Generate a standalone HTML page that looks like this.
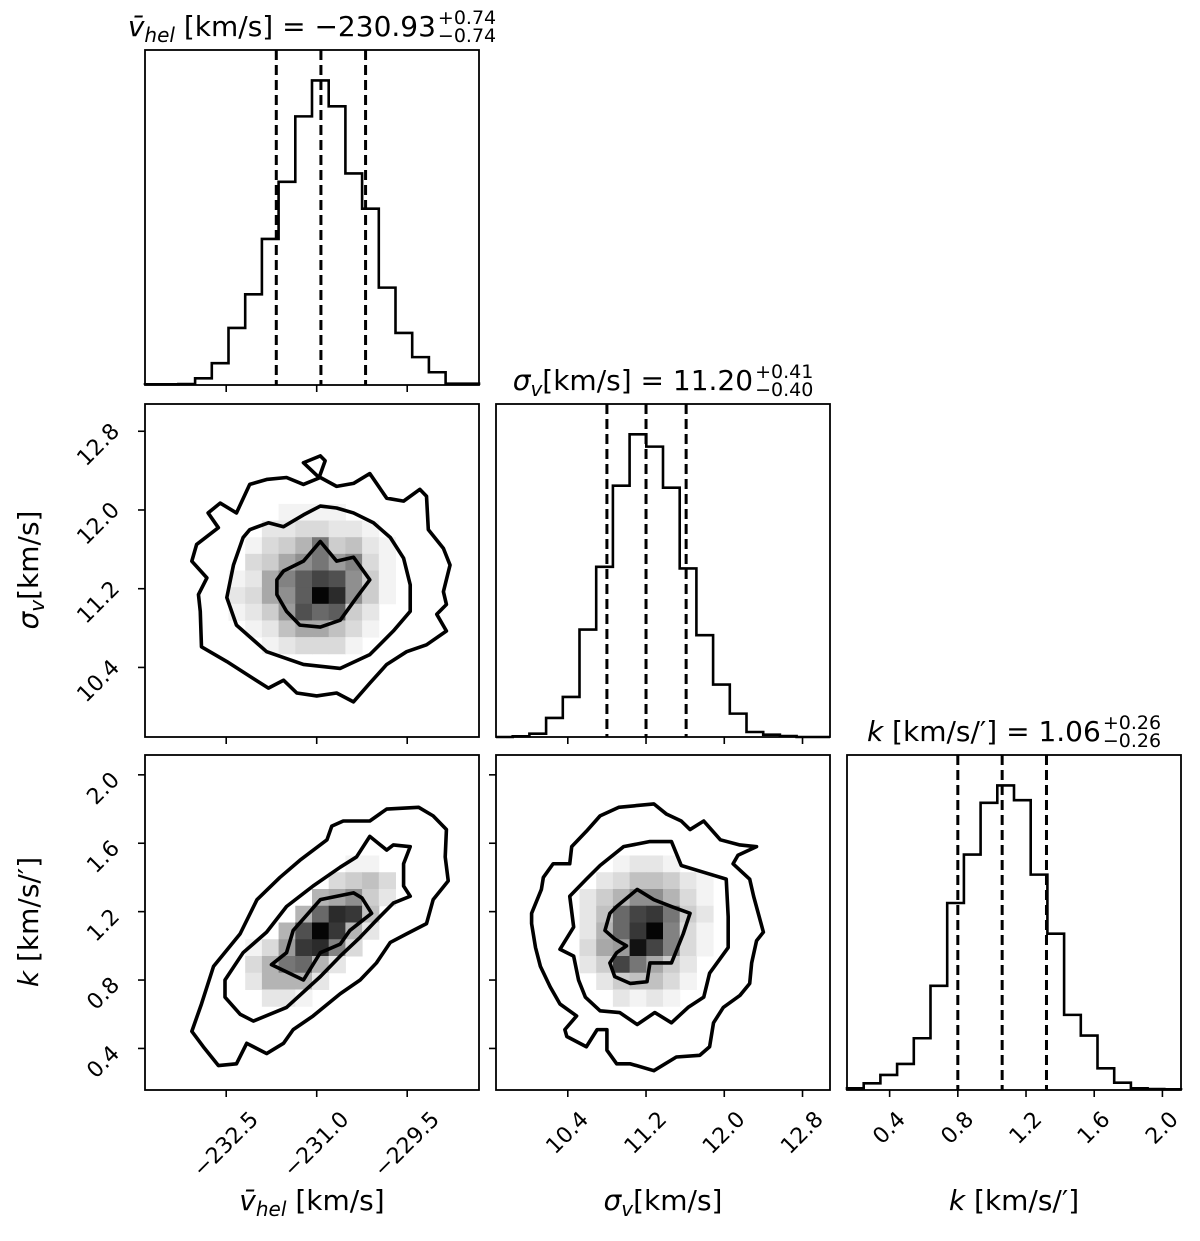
<!DOCTYPE html>
<html><head><meta charset="utf-8"><style>
html,body{margin:0;padding:0;background:#fff;}
svg{display:block;font-family:"DejaVu Sans","Liberation Sans",sans-serif;}
</style></head><body>
<svg id="fig" width="1200" height="1241" viewBox="0 0 1200 1241" xmlns="http://www.w3.org/2000/svg"></svg>
<script>
// ---------- data ----------
const vHistCounts = [2,2,3,20,65,170,270,435,605,800,907,830,630,525,290,155,83,38,4,4];
const sHistCounts = [0,2,10,57,120,322,510,753,907,870,747,505,305,157,70,15,7,3,0,0];
const kHistCounts = [5,20,45,78,155,312,560,705,860,912,868,645,468,225,163,65,22,5,3,2];
const vQuantiles = [-231.67,-230.93,-230.19];
const sQuantiles = [10.80,11.20,11.61];
const kQuantiles = [0.80,1.06,1.32];
const vTicks = [-232.5,-231.0,-229.5];
const vTickLabels = ["\u2212232.5","\u2212231.0","\u2212229.5"];
const sTicks = [10.4,11.2,12.0,12.8];
const sTickLabels = ["10.4","11.2","12.0","12.8"];
const kTicks = [0.4,0.8,1.2,1.6,2.0];
const kTickLabels = ["0.4","0.8","1.2","1.6","2.0"];
const vLim = [-233.846,-228.31];
const sLimX = [9.666,13.081];
const sLimY = [9.693,13.077];
const kLimX = [0.150,2.109];
const kLimY = [0.157,2.116];
const densVS = [
[0,0,0,.05,.05,.05,.05,0,0,0],
[0,0,.1,.1,.15,.15,.1,.1,.05,0],
[0,.05,.15,.2,.3,.55,.2,.25,.1,.05],
[0,.15,.2,.35,.45,.55,.4,.5,.15,.05],
[.05,.1,.35,.5,.65,.75,.7,.45,.2,.05],
[.1,.15,.35,.45,.65,1,.85,.45,.2,.05],
[.05,.1,.2,.4,.7,.6,.65,.2,.1,0],
[0,.05,.1,.25,.35,.35,.25,.15,.05,0],
[0,0,.05,.1,.15,.15,.15,.05,0,0]];
const densVK = [
[0,0,0,0,0,0,0,.05,.05,0],
[0,0,0,0,0,0,.15,.2,.25,.15],
[0,0,0,0,0,.3,.35,.45,.2,.1],
[0,0,0,0,.3,.6,.85,.8,.25,0],
[0,0,0,.3,.7,1,.8,.3,.1,0],
[0,.05,.15,.4,.8,.85,.5,.15,0,0],
[0,.15,.3,.55,.6,.3,.1,0,0,0],
[0,.1,.3,.3,.3,.1,0,0,0,0],
[0,0,.1,.1,.05,0,0,0,0,0]];
const densSK = [
[0,0,.05,.1,.1,.05,0,0],
[0,.1,.15,.25,.25,.2,.1,.05],
[.1,.2,.3,.45,.45,.3,.15,.05],
[.1,.25,.6,.75,.8,.55,.2,.1],
[.1,.3,.6,.8,1,.5,.15,.05],
[.15,.35,.4,.95,.75,.5,.15,.05],
[.1,.2,.75,.55,.35,.2,.1,0],
[0,.1,.2,.25,.25,.15,.05,0],
[0,0,.1,.05,.1,.05,0,0]];
const contVS_outer = [[-230.94,12.33],[-230.67,12.24],[-230.39,12.27],[-230.12,12.37],[-229.84,12.12],[-229.56,12.09],[-229.29,12.21],[-229.18,12.14],[-229.15,11.80],[-228.90,11.61],[-228.79,11.44],[-228.90,11.17],[-228.85,11.04],[-229.01,10.94],[-228.85,10.77],[-229.18,10.63],[-229.51,10.56],[-229.84,10.43],[-230.12,10.24],[-230.39,10.05],[-230.67,10.14],[-231.0,10.11],[-231.33,10.14],[-231.55,10.27],[-231.80,10.19],[-232.11,10.31],[-232.49,10.46],[-232.91,10.61],[-232.93,10.97],[-232.96,11.14],[-232.82,11.31],[-233.07,11.48],[-232.99,11.65],[-232.63,11.82],[-232.80,11.97],[-232.60,12.07],[-232.33,11.97],[-232.11,12.26],[-231.83,12.31],[-231.50,12.33],[-231.22,12.26]];
const contVS_loop = [[-231.22,12.48],[-230.94,12.55],[-230.86,12.50],[-230.96,12.33]];
const contVS_mid = [[-232.11,11.80],[-231.80,11.87],[-231.55,11.83],[-231.22,11.95],[-230.94,12.04],[-230.67,12.02],[-230.39,11.97],[-230.06,11.87],[-229.78,11.72],[-229.56,11.51],[-229.45,11.24],[-229.45,10.97],[-229.73,10.77],[-230.12,10.53],[-230.61,10.39],[-231.22,10.43],[-231.83,10.56],[-232.33,10.83],[-232.49,11.11],[-232.38,11.44],[-232.22,11.72]];
const contVS_in = [[-231.66,11.29],[-231.55,11.38],[-231.22,11.48],[-230.94,11.68],[-230.67,11.48],[-230.39,11.52],[-230.12,11.29],[-230.34,11.11],[-230.61,10.88],[-230.94,10.81],[-231.28,10.83],[-231.50,10.97],[-231.66,11.14]];
const contVK_outer = [[-233.07,0.50],[-232.91,0.66],[-232.71,0.88],[-232.27,1.07],[-231.99,1.27],[-231.61,1.40],[-231.28,1.50],[-230.83,1.62],[-230.75,1.70],[-230.56,1.73],[-230.12,1.73],[-229.84,1.80],[-229.31,1.81],[-229.07,1.76],[-228.85,1.68],[-228.87,1.52],[-228.82,1.38],[-229.07,1.27],[-229.18,1.13],[-229.51,1.07],[-229.78,1.02],[-230.01,0.90],[-230.28,0.80],[-230.61,0.72],[-231.06,0.59],[-231.39,0.51],[-231.55,0.43],[-231.83,0.37],[-232.16,0.43],[-232.33,0.31],[-232.63,0.30],[-232.88,0.41]];
const contVK_mid = [[-232.52,0.80],[-232.22,0.96],[-231.83,1.08],[-231.50,1.23],[-231.06,1.35],[-230.61,1.46],[-230.34,1.52],[-230.12,1.64],[-229.84,1.56],[-229.73,1.59],[-229.45,1.58],[-229.56,1.48],[-229.56,1.35],[-229.45,1.29],[-229.73,1.25],[-230.01,1.15],[-230.28,1.05],[-230.61,0.94],[-230.94,0.82],[-231.50,0.64],[-232.05,0.56],[-232.27,0.60],[-232.52,0.70]];
const contVK_in = [[-231.75,0.89],[-231.50,0.96],[-231.39,1.09],[-230.94,1.27],[-230.39,1.31],[-230.25,1.28],[-230.09,1.19],[-230.45,1.09],[-230.61,1.01],[-230.94,0.96],[-231.22,0.80]];
const contSK_outer = [[10.03,1.19],[10.13,1.33],[10.15,1.40],[10.25,1.48],[10.42,1.48],[10.44,1.58],[10.59,1.67],[10.73,1.76],[10.92,1.81],[11.28,1.83],[11.41,1.77],[11.56,1.73],[11.65,1.68],[11.79,1.73],[11.96,1.62],[12.16,1.59],[12.33,1.58],[12.14,1.53],[12.09,1.48],[12.26,1.39],[12.30,1.29],[12.40,1.08],[12.33,1.03],[12.28,0.90],[12.26,0.78],[12.16,0.71],[11.99,0.64],[11.89,0.55],[11.85,0.41],[11.75,0.36],[11.51,0.35],[11.28,0.27],[11.04,0.31],[10.90,0.31],[10.80,0.39],[10.80,0.51],[10.70,0.51],[10.59,0.41],[10.39,0.47],[10.37,0.51],[10.49,0.59],[10.32,0.66],[10.22,0.76],[10.12,0.88],[10.07,0.99],[10.03,1.13]];
const contSK_mid = [[10.42,1.29],[10.59,1.39],[10.73,1.47],[10.97,1.58],[11.24,1.61],[11.46,1.61],[11.56,1.47],[11.79,1.43],[12.02,1.39],[12.04,1.17],[12.04,0.99],[11.85,0.84],[11.79,0.70],[11.63,0.64],[11.46,0.55],[11.29,0.61],[11.11,0.54],[10.93,0.61],[10.73,0.62],[10.58,0.70],[10.51,0.80],[10.46,0.94],[10.32,0.98],[10.46,1.11]];
const contSK_in = [[10.83,1.19],[10.90,1.23],[11.11,1.33],[11.28,1.27],[11.46,1.23],[11.65,1.19],[11.58,1.07],[11.46,0.90],[11.24,0.90],[11.21,0.79],[11.04,0.78],[10.88,0.82],[10.83,0.90],[10.90,0.96],[11.00,1.00],[10.88,1.04],[10.78,1.09]];

// ---------- drawing ----------
const NS = "http://www.w3.org/2000/svg";
const svg = document.getElementById("fig");
function mk(tag, attrs, parent){ const e=document.createElementNS(NS,tag); for(const k in attrs) e.setAttribute(k,attrs[k]); (parent||svg).appendChild(e); return e; }
function scale(d0,d1,p0,p1){ return v => p0 + (v-d0)/(d1-d0)*(p1-p0); }

const cols = [[145,479],[496,830],[847,1181]];
const rows = [[50,385],[404,737],[755,1090]];
const TFS = 22;

function frame(x0,y0,x1,y1,name){
  const r = mk("rect",{x:x0,y:y0,width:x1-x0,height:y1-y0,fill:"none",stroke:"#000","stroke-width":1.8});
  
  
}
function xTicks(sx, ticks, labels, y1, withLabels, name){
  ticks.forEach((t,i)=>{
    const x=sx(t);
    const l=mk("line",{x1:x,x2:x,y1:y1,y2:y1+7,stroke:"#000","stroke-width":1.6});
    
    
    if(withLabels){
      const tx=mk("text",{x:x,y:0,"font-size":TFS,"text-anchor":"middle","dominant-baseline":"central",fill:"#000"});
      tx.textContent=labels[i];
      
      
      const len=tx.getComputedTextLength();
      const cy=y1+17+(len+TFS*1.15)*0.707/2;
      tx.setAttribute("y",cy);
      tx.setAttribute("transform","rotate(-45 "+x+" "+cy+")");
    }
  });
}
function yTicks(sy, ticks, labels, x0, withLabels, name){
  ticks.forEach((t,i)=>{
    const y=sy(t);
    const l=mk("line",{x1:x0-7,x2:x0,y1:y,y2:y,stroke:"#000","stroke-width":1.6});
    
    
    if(withLabels){
      const tx=mk("text",{x:0,y:y+14,"font-size":TFS,"text-anchor":"middle","dominant-baseline":"central",fill:"#000"});
      tx.textContent=labels[i];
      
      
      const len=tx.getComputedTextLength();
      const cx=x0-20-(len+TFS*1.15)*0.707/2;
      tx.setAttribute("x",cx);
      tx.setAttribute("transform","rotate(-45 "+cx+" "+(y+14)+")");
    }
  });
}
function hist(counts, lim, quants, col, row, name){
  const [x0,x1]=cols[col], [y0,y1]=rows[row];
  const maxc=Math.max(...counts)*1.1;
  const sx=scale(lim[0],lim[1],x0,x1), sy=scale(0,maxc,y1,y0);
  const bw=(lim[1]-lim[0])/counts.length;
  let d="M"+sx(lim[0])+" "+sy(0);
  counts.forEach((c,i)=>{ d+=" L"+sx(lim[0]+i*bw)+" "+sy(c)+" L"+sx(lim[0]+(i+1)*bw)+" "+sy(c); });
  d+=" L"+sx(lim[1])+" "+sy(0);
  const p=mk("path",{d:d,fill:"none",stroke:"#000","stroke-width":2.6,"stroke-linejoin":"miter"});
  
  
  quants.forEach(q=>{
    const l=mk("line",{x1:sx(q),x2:sx(q),y1:y0,y2:y1,stroke:"#000","stroke-width":3,"stroke-dasharray":"10,5"});
    
    
  });
  frame(x0,y0,x1,y1,name+'-hist-panel');
  return sx;
}
function density(grid, xlim, ylim, col, row, name, contours){
  const [x0,x1]=cols[col], [y0,y1]=rows[row];
  const sx=scale(xlim[0],xlim[1],x0,x1), sy=scale(ylim[0],ylim[1],y1,y0);
  const bx=(xlim[1]-xlim[0])/20, by=(ylim[1]-ylim[0])/20;
  grid.forEach((r,ri)=>r.forEach((v,ci)=>{
    if(v<=0) return;
    const xa=xlim[0]+(ci+5)*bx, yt=ylim[1]-(ri+6)*by;
    const g=Math.round(255*(1-v*0.98));
    const c=mk("rect",{x:sx(xa),y:sy(yt),width:sx(xa+bx)-sx(xa)+0.5,height:sy(yt-by)-sy(yt)+0.5,fill:"rgb("+g+","+g+","+g+")"});
    
    
  }));
  contours.forEach(([pts,cn])=>{
    const p=mk("polygon",{points:pts.map(p=>sx(p[0])+","+sy(p[1])).join(" "),fill:"none",stroke:"#000","stroke-width":3.6,"stroke-linejoin":"round"});
    
    
  });
  frame(x0,y0,x1,y1,name+'-panel');
  return [sx,sy];
}
function title(cx, baseY, parts, sup, sub, name){
  const g=mk("g",{});
  
  
  const t=mk("text",{x:0,y:baseY,"font-size":28,fill:"#000"},g);
  parts.forEach(([s,st])=>{
    const ts=mk("tspan",{},t);
    if(st.includes("i")) ts.setAttribute("font-style","italic");
    if(st.includes("sub")){ ts.setAttribute("font-size","20"); ts.setAttribute("dy","6"); }
    if(st.includes("up")){ ts.setAttribute("dy","-6"); }
    ts.textContent=s;
  });
  const w=t.getBBox().width;
  const a=mk("text",{x:0,y:baseY-12,"font-size":19,fill:"#000"},g); a.textContent=sup;
  const b=mk("text",{x:0,y:baseY+6,"font-size":19,fill:"#000"},g); b.textContent=sub;
  const sw=Math.max(a.getComputedTextLength(),b.getComputedTextLength());
  const x=cx-(w+2+sw)/2;
  t.setAttribute("x",x); a.setAttribute("x",x+w+2); b.setAttribute("x",x+w+2);
}
function axisLabel(x,y,parts,rot,name){
  const t=mk("text",{x:x,y:y,"font-size":28,"text-anchor":"middle",fill:"#000"});
  if(rot) t.setAttribute("transform","rotate(-90 "+x+" "+y+")");
  parts.forEach(([s,st])=>{
    const ts=mk("tspan",{},t);
    if(st.includes("i")) ts.setAttribute("font-style","italic");
    if(st.includes("sub")){ ts.setAttribute("font-size","20"); ts.setAttribute("dy","6"); }
    if(st.includes("up")){ ts.setAttribute("dy","-6"); }
    ts.textContent=s;
  });
  
  
}

const sxV = hist(vHistCounts, vLim, vQuantiles, 0, 0, "vhel");
xTicks(sxV, vTicks, vTickLabels, rows[0][1], false, "vhel-hist-x");
const sxS = hist(sHistCounts, sLimX, sQuantiles, 1, 1, "sigma");
xTicks(sxS, sTicks, sTickLabels, rows[1][1], false, "sigma-hist-x");
const sxK = hist(kHistCounts, kLimX, kQuantiles, 2, 2, "k");
xTicks(sxK, kTicks, kTickLabels, rows[2][1], true, "k-x");

const [axA, ayA] = density(densVS, vLim, sLimY, 0, 1, "vhel-sigma", [[contVS_outer,"contour-outer"],[contVS_loop,"contour-island"],[contVS_mid,"contour-middle"],[contVS_in,"contour-inner"]]);
xTicks(axA, vTicks, vTickLabels, rows[1][1], false, "vhel-sigma-x");
yTicks(ayA, sTicks, sTickLabels, cols[0][0], true, "sigma-y");
const [axB, ayB] = density(densVK, vLim, kLimY, 0, 2, "vhel-k", [[contVK_outer,"contour-outer"],[contVK_mid,"contour-middle"],[contVK_in,"contour-inner"]]);
xTicks(axB, vTicks, vTickLabels, rows[2][1], true, "vhel-x");
yTicks(ayB, kTicks, kTickLabels, cols[0][0], true, "k-y");
const [axC, ayC] = density(densSK, sLimX, kLimY, 1, 2, "sigma-k", [[contSK_outer,"contour-outer"],[contSK_mid,"contour-middle"],[contSK_in,"contour-inner"]]);
xTicks(axC, sTicks, sTickLabels, rows[2][1], true, "sigma-x");
yTicks(ayC, kTicks, kTickLabels, cols[1][0], false, "sigma-k-y");

title(312, 36, [["v\u0304","i"],["hel","isub"],[" [km/s] = \u2212230.93","up"]], "+0.74", "\u22120.74", "vhel-title");
title(663, 390, [["\u03c3","i"],["v","isub"],["[km/s] = 11.20","up"]], "+0.41", "\u22120.40", "sigma-title");
title(1014, 741, [["k","i"],[" [km/s/\u2032] = 1.06",""]], "+0.26", "\u22120.26", "k-title");

axisLabel(312, 1210, [["v\u0304","i"],["hel","isub"],[" [km/s]","up"]], false, "x-axis-title-vhel");
axisLabel(663, 1210, [["\u03c3","i"],["v","isub"],["[km/s]","up"]], false, "x-axis-title-sigma");
axisLabel(1014, 1210, [["k","i"],[" [km/s/\u2032]",""]], false, "x-axis-title-k");
axisLabel(38, 570, [["\u03c3","i"],["v","isub"],["[km/s]","up"]], true, "y-axis-title-sigma");
axisLabel(38, 922, [["k","i"],[" [km/s/\u2032]",""]], true, "y-axis-title-k");
</script>
</body></html>
